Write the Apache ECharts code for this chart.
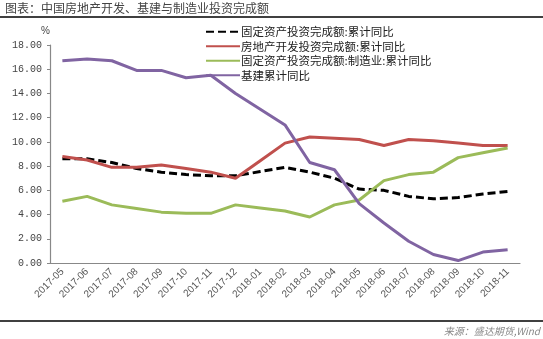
<!DOCTYPE html>
<html>
<head>
<meta charset="utf-8">
<script src="https://cdn.jsdelivr.net/npm/echarts@6/dist/echarts.min.js"></script>
<style>html,body{margin:0;padding:0;background:#fff;}#c{width:543px;height:339px;}</style>
</head>
<body>
<div id="c"></div>
<script>
var categories = ['2017-05','2017-06','2017-07','2017-08','2017-09','2017-10','2017-11','2017-12','2018-01','2018-02','2018-03','2018-04','2018-05','2018-06','2018-07','2018-08','2018-09','2018-10','2018-11'];
var faiTotal = [8.6,8.6,8.3,7.8,7.5,7.3,7.2,7.2,7.55,7.9,7.5,7.0,6.1,6.0,5.5,5.3,5.4,5.7,5.9];
var realEstate = [8.8,8.5,7.9,7.9,8.1,7.8,7.5,7.0,8.45,9.9,10.4,10.3,10.2,9.7,10.2,10.1,9.9,9.7,9.7];
var manufacturing = [5.1,5.5,4.8,4.5,4.2,4.1,4.1,4.8,4.55,4.3,3.8,4.8,5.2,6.8,7.3,7.5,8.7,9.1,9.5];
var infrastructure = [16.7,16.85,16.7,15.9,15.9,15.3,15.5,14.0,12.7,11.4,8.3,7.7,4.9,3.3,1.8,0.7,0.2,0.9,1.1];
var seriesNames = ['固定资产投资完成额:累计同比','房地产开发投资完成额:累计同比','固定资产投资完成额:制造业:累计同比','基建累计同比'];
var yTicks = {min:0, max:18, interval:2};

var chart = echarts.init(document.getElementById('c'));
function ln(name, data, color, type) {
  return {name:name, type:'line', data:data, symbol:'none', smooth:false,
    lineStyle:{color:color, width:3, type:type||'solid'}, itemStyle:{color:color}};
}
chart.setOption({
  animation:false,
  backgroundColor:'#fff',
  grid:{left:50, right:23, top:45, bottom:76},
  legend:{orient:'vertical', left:200, top:21, itemWidth:34, itemHeight:10, itemGap:3,
    itemStyle:{opacity:0},
    textStyle:{fontFamily:'Noto Sans CJK SC', fontSize:11.5, color:'#222', padding:[0,0,0,-4]},
    data:seriesNames},
  xAxis:{type:'category', data:categories, boundaryGap:true,
    axisLine:{lineStyle:{color:'#888', width:1.2}}, axisTick:{show:false},
    axisLabel:{rotate:45, fontSize:10, color:'#555', fontFamily:'Liberation Sans', margin:7, interval:0}},
  yAxis:{type:'value', min:yTicks.min, max:yTicks.max, interval:yTicks.interval,
    name:'%', nameLocation:'end', nameGap:9, nameTextStyle:{color:'#444', fontSize:10, align:'right'},
    splitLine:{show:false},
    axisLine:{show:true, lineStyle:{color:'#888', width:1.2}},
    axisTick:{show:true, inside:false, length:3, lineStyle:{color:'#888'}},
    axisLabel:{formatter:function(v){return v.toFixed(2);}, fontSize:10, color:'#444', fontFamily:'Liberation Mono', margin:8}},
  series:[
    ln(seriesNames[0], faiTotal, '#000000', [8,4]),
    ln(seriesNames[1], realEstate, '#C0504D'),
    ln(seriesNames[2], manufacturing, '#9BBB59'),
    ln(seriesNames[3], infrastructure, '#8064A2')
  ],
  graphic:[
    {type:'text', left:5, top:2, style:{text:'图表：中国房地产开发、基建与制造业投资完成额', fontFamily:'Noto Sans CJK SC', fontSize:12, fill:'#444'}},
    {type:'line', shape:{x1:0, y1:17, x2:543, y2:17}, style:{stroke:'#000', lineWidth:1.5}},
    {type:'line', shape:{x1:0, y1:321, x2:543, y2:321}, style:{stroke:'#000', lineWidth:1.5}},
    {type:'text', right:3, top:326, style:{text:'来源：盛达期货,Wind', fontFamily:'Noto Sans CJK SC', fontSize:10, fontStyle:'italic', fill:'#888'}}
  ]
});
</script>
</body>
</html>
